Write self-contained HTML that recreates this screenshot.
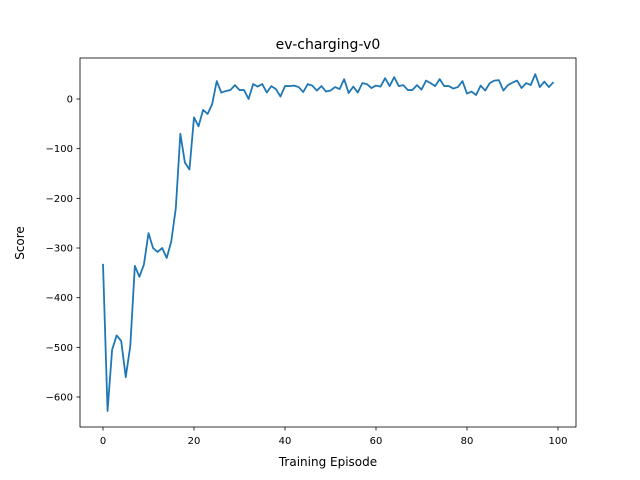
<!DOCTYPE html>
<html><head><meta charset="utf-8"><style>body{margin:0;background:#fff}svg{display:block;font-family:"DejaVu Sans","Liberation Sans",sans-serif}</style></head>
<body>
<svg id="chart" width="640" height="480">
<rect width="640" height="480" fill="#fff"/>
<text x="328" y="49" text-anchor="middle" font-size="14">ev-charging-v0</text>
<g id="axes"></g>
<text x="328" y="466" text-anchor="middle" font-size="12">Training Episode</text>
<text transform="translate(24,243) rotate(-90)" text-anchor="middle" font-size="12">Score</text>
</svg>
<script>
const scores=[-332,-628,-505,-476,-487,-560,-497,-336,-358,-333,-270,-300,-308,-300,-320,-287,-220,-70,-128,-142,-37,-55,-22,-30,-10,36,13,16,18,28,18,18,0,30,25,30,13,26,20,5,26,26,27,24,14,30,27,17,26,15,17,24,20,40,12,25,13,32,30,22,27,25,42,26,44,26,28,18,18,28,19,37,32,26,40,26,26,21,24,36,11,15,8,27,17,32,37,38,17,28,33,37,22,32,28,50,24,35,24,34];
const xTicks=[0,20,40,60,80,100];
const yTicks=[0,-100,-200,-300,-400,-500,-600];
const ns="http://www.w3.org/2000/svg";
const L=80,R=576,T=58,B=427;
const xs=v=>103+(v/100)*455;
const ys=v=>99-v*0.4967;
const g=document.getElementById('axes');
function mk(t,a){const e=document.createElementNS(ns,t);for(const k in a)e.setAttribute(k,a[k]);g.appendChild(e);return e;}
const pl=mk('polyline',{points:scores.map((v,i)=>xs(i)+','+ys(v)).join(' '),fill:'none',stroke:'#1f77b4','stroke-width':1.8,'stroke-linejoin':'round'});


const fr=mk('rect',{x:L,y:T,width:R-L,height:B-T,fill:'none',stroke:'#000','stroke-width':0.8});


xTicks.forEach(t=>{const x=xs(t);mk('line',{x1:x,x2:x,y1:B,y2:B+3.5,stroke:'#000','stroke-width':0.8});
const tx=mk('text',{x:x,y:B+17,'text-anchor':'middle','font-size':10});tx.textContent=t;

});
yTicks.forEach(t=>{const y=ys(t);mk('line',{x1:L-3.5,x2:L,y1:y,y2:y,stroke:'#000','stroke-width':0.8});
const tx=mk('text',{x:L-7,y:y+3.5,'text-anchor':'end','font-size':10});tx.textContent=t<0?'\u2212'+(-t):t;

});
</script>
</body></html>
